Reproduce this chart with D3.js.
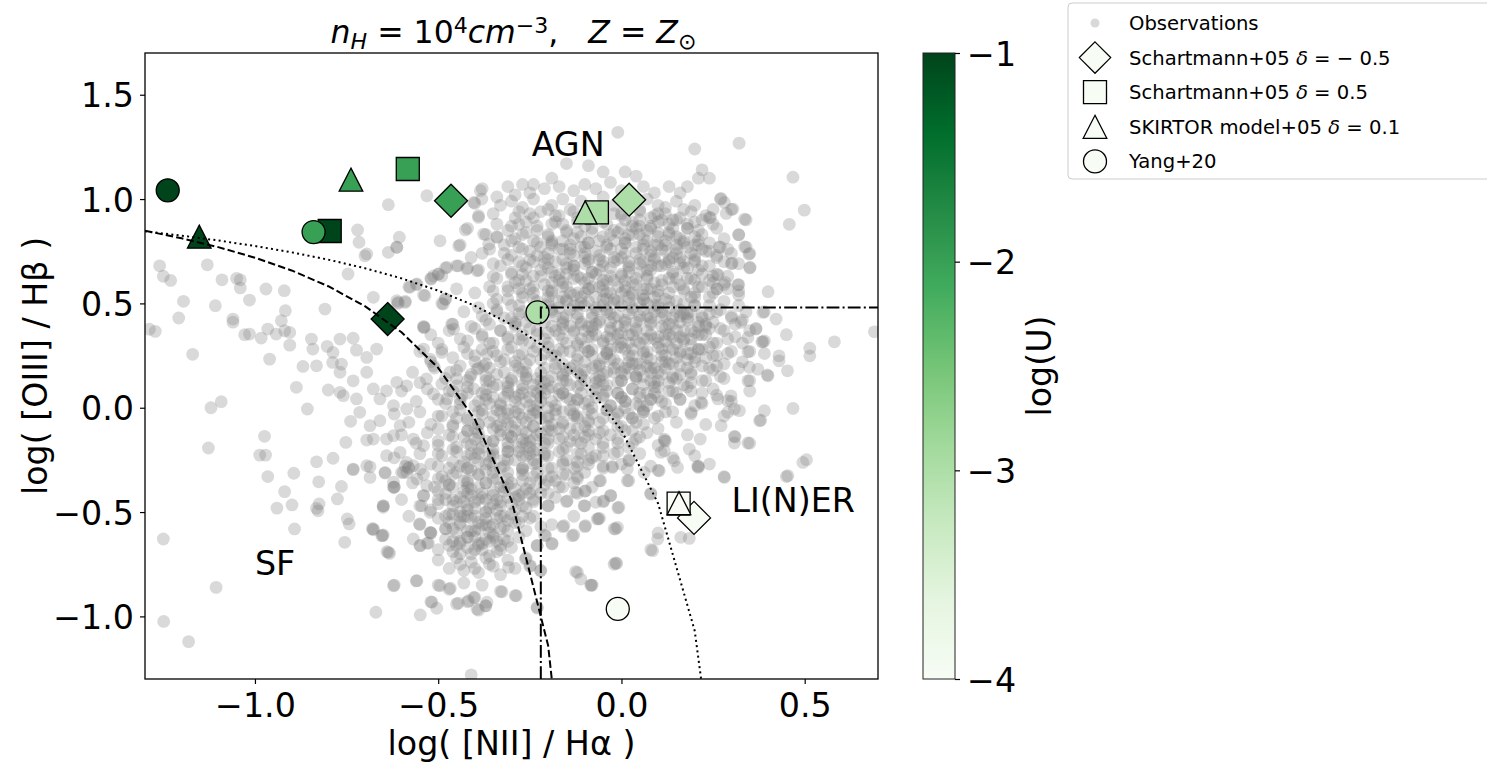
<!DOCTYPE html>
<html>
<head>
<meta charset="utf-8">
<script src="https://cdn.jsdelivr.net/npm/d3@7"></script>
<style>
  html, body { margin: 0; padding: 0; background: #ffffff; }
  svg text { font-family: "DejaVu Sans", sans-serif; }
</style>
</head>
<body>
<svg id="chart" width="1487" height="762"></svg>
<script>
// ---------- axes ----------
const xDomain = [-1.3, 0.7];
const yDomain = [-1.3, 1.7];
const xTicks = [-1.0, -0.5, 0.0, 0.5];
const yTicks = [-1.0, -0.5, 0.0, 0.5, 1.0, 1.5];
const uDomain = [-4, -1];
const uTicks = [-1, -2, -3, -4];

// ---------- model grids: log(U) of each point ----------
const logU = [-1, -2, -3, -4];
const schartmannNegX = [-0.638, -0.465, 0.021, 0.198];
const schartmannNegY = [0.425, 0.992, 0.997, -0.528];
const schartmannPosX = [-0.796, -0.583, -0.067, 0.156];
const schartmannPosY = [0.847, 1.144, 0.936, -0.46];
const skirtorX = [-1.152, -0.738, -0.099, 0.157];
const skirtorY = [0.82, 1.093, 0.936, -0.457];
const yangX = [-1.238, -0.84, -0.229, -0.01];
const yangY = [1.042, 0.842, 0.457, -0.964];

// ---------- demarcation lines ----------
const curveX = [-1.3, -1.2, -1.1, -1.0, -0.9, -0.8, -0.7, -0.6, -0.5, -0.4, -0.3, -0.2, -0.1, 0.0, 0.1, 0.2, 0.3];
const dividerX = -0.22;   // vertical dash-dot
const dividerY = 0.48;    // horizontal dash-dot

// ---------- region labels ----------
const regionLabels = [
  { text: "AGN", x: -0.245, y: 1.205 },
  { text: "SF", x: -1.0, y: -0.8 },
  { text: "LI(N)ER", x: 0.3, y: -0.5 }
];

// ---------- observations: star-forming side and outliers ----------
const obsOuter = [
[-1.26,0.68],[-1.25,0.63],[-1.23,0.61],[-1.13,0.685],[-1.09,0.613],[-1.05,0.62],[-1.04,0.613],[-1.04,0.574],[-0.97,0.569],[-0.92,0.561],
[-1.015,0.516],[-1.195,0.51],[-1.108,0.489],[-1.208,0.43],[-1.272,0.366],[-1.17,0.256],[-0.917,0.465],[-1.06,0.425],[-1.06,0.41],[-1.028,0.35],
[-1.015,0.353],[-0.983,0.334],[-0.965,0.377],[-0.942,0.353],[-0.928,0.417],[-0.919,0.369],[-0.905,0.361],[-0.96,0.233],[-0.905,0.3],[-0.869,0.198],
[-0.846,0.329],[-0.842,0.281],[-0.832,0.201],[-0.809,0.473],[-0.768,0.329],[-0.803,0.294],[-0.787,0.265],[-0.788,0.217],[-0.764,0.209],[-0.768,0.17],
[-0.732,0.333],[-0.723,0.276],[-0.695,0.241],[-0.668,0.281],[-0.746,0.641],[-0.7,0.728],[-0.636,0.745],[-0.613,0.769],[-0.677,0.529],[-0.613,0.513],
[-0.59,0.505],[-0.536,0.537],[-0.577,0.577],[-0.513,0.632],[-0.49,0.632],[-0.486,0.497],[-0.463,0.401],[-0.458,0.377],[-0.538,0.385],[-0.887,0.098],
[-0.8,0.085],[-0.768,0.074],[-0.759,0.058],[-1.12,0.0],[-1.092,0.029],[-0.857,-0.006],[-0.739,-0.065],[-0.974,-0.137],[-1.127,-0.193],[-0.987,-0.227],
[-0.971,-0.227],[-0.965,-0.33],[-0.894,-0.314],[-0.832,-0.259],[-0.787,-0.242],[-0.752,-0.166],[-0.732,-0.294],[-0.695,-0.278],[-0.686,-0.334],[-0.645,-0.31],
[-0.641,-0.15],[-0.695,-0.155],[-0.586,-0.262],[-1.25,-0.629],[-1.106,-0.861],[-1.249,-1.024],[-1.181,-1.121],[-0.919,-0.402],[-0.899,-0.466],[-0.94,-0.481],
[-0.892,-0.581],[-0.826,-0.355],[-0.825,-0.461],[-0.828,-0.494],[-0.775,-0.437],[-0.764,-0.377],[-0.732,-0.297],[-0.686,-0.283],[-0.645,-0.313],[-0.62,-0.381],
[-0.748,-0.533],[-0.743,-0.557],[-0.755,-0.645],[-0.677,-0.585],[-0.652,-0.613],[-0.633,-0.698],[-0.622,-0.853],[-0.67,-0.98],[-0.549,-0.993],[-0.65,-0.477],
[-0.832,-0.482],[-1.288,0.376],[-0.636,0.973],[-0.531,1.016],[-0.72,0.852],[-0.716,0.793],[-0.695,0.737],[-0.606,0.817],[-0.613,0.769],[-0.495,0.8],
[-0.426,0.852],[-0.385,1.04],[-0.381,1.0],[-0.403,0.984],[-0.39,0.912],[-0.376,0.832],[-0.362,0.784],[-0.444,0.776],[-0.339,0.816],[-0.476,0.673],
[-0.499,0.641],[-0.519,0.617],[-0.445,0.68],[-0.422,0.665],[-0.394,0.656],[-0.558,0.593],[-0.609,0.505],[-0.54,0.385],[-0.481,0.521],[-0.54,0.281],
[-0.522,0.233],[-0.49,0.265],[-0.513,0.201],[-0.468,0.17],[-0.532,0.138],[-0.49,0.114],[-0.449,0.106],[-0.513,0.066],[-0.476,0.042],[-0.435,0.057],
[-0.413,0.146],[-0.403,0.09],[-0.394,0.185],[-0.367,0.257],[-0.376,0.201],[-0.732,0.129],[-0.723,0.042],[-0.695,0.17],[-0.677,0.09],[-0.659,0.042],
[-0.641,0.081],[-0.613,0.122],[-0.622,0.01],[-0.586,0.105],[-0.586,-0.006],[-0.714,-0.022],[-0.686,-0.086],[-0.659,-0.062],[-0.677,-0.15],[-0.622,-0.134],
[-0.604,-0.086],[-0.568,-0.15],[-0.604,-0.214],[-0.641,-0.23],[-0.568,-0.278],[-0.54,-0.182],[-0.586,-0.31],[-0.622,-0.357],[-0.558,-0.829],[-0.495,-0.853],
[-0.467,-0.865],[-0.517,-0.932],[-0.504,-0.961],[-0.445,-0.936],[-0.417,-0.925],[-0.403,-0.909],[-0.394,-0.965],[-0.371,-0.949],[-0.367,-0.932],[-0.326,-0.882],
[-0.287,-0.901],[-0.23,-0.956],[-0.41,-1.28],[-0.636,-0.693],[-0.65,-0.47],[-0.654,-0.613],[-0.677,-0.581],[-0.622,-0.381],[-0.581,-0.286],[-0.595,-0.31],
[-0.568,-0.629],[-0.551,-0.557],[-0.549,-0.661],[-0.527,-0.648],[-0.522,-0.597],[-0.545,-0.47],[-0.54,-0.422],[-0.531,-0.374],[-0.522,-0.501],[-0.558,-0.342],
[-0.549,-0.294],[-0.189,-0.653],[-0.157,-0.565],[-0.125,-0.785],[-0.111,-0.821],[-0.084,-0.85],[-0.016,-0.744],[-0.016,-0.581],[-0.098,-0.565],[-0.066,-0.533],
[-0.102,-0.47],[-0.07,-0.453],[-0.048,-0.446],[-0.007,-0.477],[-0.029,-0.422],[-0.057,-0.35],[0.016,-0.35],[-0.025,-0.281],[0.021,-0.254],[0.08,-0.414],
[0.099,-0.629],[0.085,-0.685],[0.117,-0.158],[0.117,-0.206],[-0.308,-0.765],[-0.262,-0.725],[-0.248,-0.757],[-0.221,-0.781],[-0.23,-0.661],[-0.207,-0.613]
];

// ---------- observations: right-hand outskirts ----------
const obsRight = [
[0.272,1.003],[0.281,0.984],[0.304,0.952],[0.286,0.931],[0.336,0.904],[0.243,0.912],[0.32,0.828],[0.267,0.771],[0.336,0.771],[0.348,0.736],
[0.351,0.673],[0.302,0.693],[0.264,0.637],[0.283,0.601],[0.318,0.589],[0.261,0.569],[0.4,0.556],[0.386,0.457],[0.422,0.425],[0.367,0.377],
[0.386,0.316],[0.345,0.268],[0.43,0.249],[0.43,0.225],[0.453,0.177],[0.398,0.157],[0.514,0.285],[0.514,0.249],[0.581,0.316],[0.69,0.364],
[0.349,0.194],[0.345,0.129],[0.458,0.879],[0.499,0.947],[0.468,1.105],[0.321,1.268],[0.468,-0.003],[0.495,-0.262],[0.505,-0.249],[0.39,-0.014],
[0.377,-0.062],[0.345,-0.169],[0.308,-0.137],[0.308,-0.169],[0.281,-0.334],[0.454,-0.326],[0.326,0.409],[0.367,0.38],[0.383,0.316],[0.345,0.337],
[0.372,0.185],[0.4,0.153],[0.299,0.057],[0.29,0.034],[0.308,-0.006],[0.322,-0.014],[0.29,-0.022],[0.263,0.042],[0.272,-0.086],[0.19,-0.022],
[0.217,0.026],[0.185,-0.198],[0.21,-0.286],[0.215,-0.15],[0.144,-0.254],[0.153,-0.286],[0.117,-0.15],[0.108,-0.214],[0.062,-0.31],[0.016,-0.294],
[-0.025,-0.286],[0.208,-0.281],[0.103,-0.302],[-0.098,-0.398],[-0.125,-0.405],[-0.148,-0.446],[-0.134,-0.613],[-0.063,-0.533],[-0.011,-0.573],[-0.013,-0.746],
[0.162,-0.621],[0.185,-0.626],[-0.082,-0.85]
];

// ---------- observations: main cloud ----------
const obsCloud = [
[-0.01,1.32],[0.2,1.24],[-0.15,1.17],[-0.09,1.16],[0.22,1.14],
[-0.31,1.06],[-0.27,1.07],[-0.24,1.07],[-0.19,1.1],[-0.05,1.13],[0.01,1.13],[0.04,1.11],[0.13,1.06],[0.16,1.03],[0.21,1.1],[0.24,1.1],
[-0.38,1.05],[-0.29,1.02],[-0.25,1.03],[-0.21,1.05],[-0.17,1.06],[-0.13,1.04],[-0.1,1.07],[-0.07,1.05],[-0.03,1.08],[0.0,1.04],[0.06,1.06],[0.09,1.03],[0.18,1.06],[0.27,1.0],[-0.34,1.01],
[-0.4,0.98],[-0.39,0.92],[-0.33,0.97],[-0.3,0.99],[-0.27,0.96],[-0.24,1.0],[-0.22,0.94],[-0.19,0.97],[-0.16,1.0],[-0.14,0.95],[-0.11,0.99],[-0.08,0.96],[-0.05,1.01],[-0.02,0.97],[0.02,0.99],[0.05,0.95],[0.07,1.0],[0.1,0.97],[0.12,0.93],[0.15,0.99],[0.17,0.95],[0.2,0.97],[0.23,0.92],[0.25,0.95],[0.3,0.95],[-0.35,0.93],[-0.29,0.91],[-0.25,0.93],[-0.18,0.92],[-0.12,0.91],[-0.06,0.93],[0.0,0.92],[0.08,0.91],[0.14,0.9],[0.24,0.91],[0.34,0.9],
[-0.42,0.86],[-0.37,0.83],[-0.34,0.88],[-0.31,0.85],[-0.28,0.88],[-0.26,0.84],[-0.23,0.87],[-0.2,0.83],[-0.18,0.89],[-0.15,0.85],[-0.13,0.81],[-0.1,0.87],[-0.08,0.84],[-0.05,0.89],[-0.03,0.83],[0.0,0.86],[0.03,0.89],[0.05,0.83],[0.08,0.87],[0.1,0.84],[0.13,0.88],[0.15,0.82],[0.18,0.86],[0.2,0.89],[0.22,0.83],[0.26,0.86],[0.32,0.83],[-0.44,0.78],[-0.34,0.82],[-0.29,0.81],[-0.24,0.8],[-0.19,0.8],[-0.11,0.82],[-0.06,0.8],[0.01,0.81],[0.07,0.8],[0.12,0.8],[0.17,0.79],[0.21,0.8],[0.27,0.77],[0.34,0.77],[-0.16,0.88],[0.04,0.86],[0.11,0.9],
[-0.36,0.76],[-0.38,0.74],[-0.32,0.78],[-0.3,0.73],[-0.27,0.76],[-0.25,0.71],[-0.22,0.77],[-0.2,0.74],[-0.18,0.7],[-0.16,0.76],[-0.13,0.73],[-0.11,0.77],[-0.09,0.71],[-0.07,0.75],[-0.04,0.78],[-0.02,0.72],[0.0,0.76],[0.02,0.7],[0.04,0.74],[0.06,0.78],[0.09,0.72],[0.11,0.76],[0.13,0.7],[0.15,0.74],[0.18,0.77],[0.2,0.71],[0.23,0.75],[0.26,0.72],[0.3,0.74],[0.35,0.74],[0.32,0.69],[-0.41,0.72],[-0.23,0.73],[-0.14,0.78],[-0.06,0.71],[0.01,0.79],[0.08,0.75],[0.16,0.72],[-0.19,0.79],[0.12,0.78],[-0.1,0.74],[0.05,0.71],[-0.28,0.7],[0.21,0.78],
[-0.48,0.67],[-0.5,0.64],[-0.52,0.62],[-0.45,0.68],[-0.42,0.67],[-0.39,0.66],[-0.35,0.63],[-0.33,0.68],[-0.3,0.65],[-0.28,0.61],[-0.26,0.67],[-0.24,0.63],[-0.21,0.69],[-0.19,0.65],[-0.17,0.61],[-0.15,0.67],[-0.12,0.63],[-0.1,0.69],[-0.08,0.65],[-0.05,0.61],[-0.03,0.67],[0.0,0.64],[0.02,0.68],[0.04,0.62],[0.07,0.66],[0.09,0.6],[0.11,0.68],[0.14,0.64],[0.16,0.69],[0.19,0.62],[0.21,0.66],[0.24,0.61],[0.26,0.64],[0.3,0.69],[0.35,0.67],[0.32,0.59],[-0.22,0.66],[-0.13,0.68],[-0.06,0.66],[0.01,0.61],[0.08,0.68],[0.13,0.62],[-0.17,0.64],[-0.02,0.7],[0.18,0.67],[-0.27,0.64],[0.05,0.65],[-0.09,0.62],
[-0.56,0.59],[-0.58,0.58],[-0.59,0.51],[-0.61,0.5],[-0.54,0.54],[-0.48,0.52],[-0.45,0.57],[-0.4,0.55],[-0.36,0.58],[-0.34,0.52],[-0.31,0.56],[-0.29,0.6],[-0.27,0.53],[-0.25,0.57],[-0.23,0.51],[-0.21,0.59],[-0.19,0.55],[-0.17,0.51],[-0.15,0.58],[-0.13,0.54],[-0.11,0.5],[-0.09,0.57],[-0.07,0.53],[-0.05,0.59],[-0.03,0.55],[-0.01,0.51],[0.01,0.58],[0.03,0.54],[0.05,0.5],[0.07,0.57],[0.09,0.53],[0.11,0.59],[0.13,0.55],[0.15,0.51],[0.17,0.57],[0.19,0.53],[0.22,0.58],[0.24,0.53],[0.26,0.57],[0.28,0.59],[0.32,0.56],[-0.2,0.53],[-0.1,0.55],[0.0,0.55],[0.1,0.56],[0.2,0.55],[-0.28,0.57],[-0.15,0.52],[-0.05,0.52],[0.06,0.52],[0.16,0.59],
[-0.49,0.5],[-0.46,0.4],[-0.54,0.39],[-0.43,0.46],[-0.39,0.48],[-0.37,0.42],[-0.34,0.47],[-0.32,0.43],[-0.3,0.49],[-0.28,0.45],[-0.26,0.41],[-0.24,0.47],[-0.22,0.43],[-0.2,0.49],[-0.18,0.44],[-0.16,0.4],[-0.14,0.47],[-0.12,0.43],[-0.1,0.49],[-0.08,0.45],[-0.06,0.41],[-0.04,0.47],[-0.02,0.43],[0.0,0.49],[0.02,0.45],[0.04,0.41],[0.06,0.47],[0.08,0.43],[0.1,0.49],[0.12,0.44],[0.14,0.4],[0.16,0.47],[0.18,0.43],[0.2,0.49],[0.22,0.44],[0.25,0.41],[0.27,0.47],[0.3,0.43],[0.34,0.46],[0.39,0.46],[-0.19,0.46],[-0.11,0.41],[-0.03,0.45],[0.05,0.44],[0.13,0.48],[0.21,0.41],[-0.25,0.44],[0.09,0.46],[-0.07,0.48],[0.17,0.45],[-0.15,0.44],[0.01,0.42],[-0.29,0.41],
[-0.52,0.35],[-0.5,0.31],[-0.47,0.37],[-0.44,0.33],[-0.41,0.39],[-0.38,0.35],[-0.36,0.31],[-0.33,0.37],[-0.31,0.33],[-0.29,0.39],[-0.27,0.35],[-0.25,0.31],[-0.23,0.37],[-0.21,0.33],[-0.19,0.39],[-0.17,0.35],[-0.15,0.31],[-0.13,0.37],[-0.11,0.33],[-0.09,0.39],[-0.07,0.35],[-0.05,0.31],[-0.03,0.37],[-0.01,0.33],[0.01,0.39],[0.03,0.35],[0.05,0.31],[0.07,0.37],[0.09,0.33],[0.11,0.39],[0.13,0.35],[0.15,0.31],[0.17,0.37],[0.19,0.33],[0.21,0.39],[0.23,0.35],[0.26,0.31],[0.28,0.37],[0.31,0.34],[0.35,0.37],[0.39,0.32],[0.45,0.35],[-0.2,0.36],[-0.12,0.3],[-0.04,0.34],[0.04,0.38],[0.12,0.32],[0.2,0.36],[-0.28,0.33],[0.16,0.34],[-0.08,0.37],[0.0,0.31],[-0.16,0.38],[0.08,0.35],[0.24,0.38],
[-0.55,0.27],[-0.52,0.22],[-0.49,0.28],[-0.46,0.24],[-0.43,0.29],[-0.4,0.25],[-0.37,0.21],[-0.35,0.27],[-0.32,0.23],[-0.3,0.29],[-0.28,0.25],[-0.26,0.21],[-0.24,0.27],[-0.22,0.23],[-0.2,0.29],[-0.18,0.25],[-0.16,0.21],[-0.14,0.27],[-0.12,0.23],[-0.1,0.29],[-0.08,0.25],[-0.06,0.21],[-0.04,0.27],[-0.02,0.23],[0.0,0.29],[0.02,0.25],[0.04,0.21],[0.06,0.27],[0.08,0.23],[0.1,0.29],[0.12,0.25],[0.14,0.21],[0.16,0.27],[0.18,0.23],[0.21,0.28],[0.23,0.24],[0.26,0.2],[0.29,0.26],[0.33,0.22],[0.35,0.27],[0.39,0.26],[-0.21,0.26],[-0.13,0.2],[-0.05,0.24],[0.03,0.28],[0.11,0.22],[0.19,0.26],[-0.29,0.22],[-0.09,0.27],[0.07,0.2],[-0.17,0.28],[0.15,0.24],[-0.01,0.21],[0.24,0.29],
[-0.57,0.17],[-0.55,0.12],[-0.51,0.19],[-0.48,0.14],[-0.45,0.18],[-0.42,0.13],[-0.39,0.19],[-0.37,0.15],[-0.34,0.11],[-0.32,0.17],[-0.3,0.13],[-0.28,0.19],[-0.26,0.15],[-0.24,0.11],[-0.22,0.17],[-0.2,0.13],[-0.18,0.19],[-0.16,0.15],[-0.14,0.11],[-0.12,0.17],[-0.1,0.13],[-0.08,0.19],[-0.06,0.15],[-0.04,0.11],[-0.02,0.17],[0.0,0.13],[0.02,0.19],[0.04,0.15],[0.06,0.11],[0.08,0.17],[0.1,0.13],[0.12,0.19],[0.14,0.15],[0.17,0.11],[0.19,0.17],[0.22,0.13],[0.25,0.18],[0.28,0.14],[0.32,0.19],[0.35,0.13],[-0.23,0.14],[-0.15,0.18],[-0.07,0.12],[0.01,0.16],[0.09,0.1],[-0.31,0.1],[-0.11,0.15],[0.05,0.18],[-0.27,0.17],[0.13,0.12],[-0.19,0.1],
[-0.6,0.08],[-0.56,0.03],[-0.53,0.09],[-0.5,0.04],[-0.47,0.08],[-0.44,0.02],[-0.42,0.07],[-0.39,0.03],[-0.37,0.09],[-0.35,0.05],[-0.33,0.01],[-0.31,0.07],[-0.29,0.03],[-0.27,0.09],[-0.25,0.05],[-0.23,0.01],[-0.21,0.07],[-0.19,0.03],[-0.17,0.09],[-0.15,0.05],[-0.13,0.01],[-0.11,0.07],[-0.09,0.03],[-0.07,0.09],[-0.05,0.05],[-0.03,0.01],[-0.01,0.07],[0.01,0.03],[0.03,0.09],[0.05,0.05],[0.07,0.01],[0.09,0.07],[0.11,0.03],[0.13,0.08],[0.16,0.04],[0.19,0.08],[0.22,0.02],[0.26,0.06],[0.3,0.03],[0.35,0.08],[-0.28,0.06],[-0.2,0.0],[-0.12,0.04],[-0.04,0.08],[0.04,0.02],[-0.36,0.02],[-0.16,0.07],[0.0,0.05],[-0.24,0.08],[-0.08,0.0],[0.08,0.04],
[-0.62,-0.03],[-0.58,-0.07],[-0.55,-0.02],[-0.52,-0.08],[-0.49,-0.04],[-0.46,-0.09],[-0.44,-0.01],[-0.42,-0.06],[-0.4,-0.1],[-0.38,-0.03],[-0.36,-0.07],[-0.34,-0.01],[-0.32,-0.05],[-0.3,-0.09],[-0.28,-0.03],[-0.26,-0.07],[-0.24,-0.01],[-0.22,-0.05],[-0.2,-0.09],[-0.18,-0.03],[-0.16,-0.07],[-0.14,-0.01],[-0.12,-0.05],[-0.1,-0.09],[-0.08,-0.03],[-0.06,-0.07],[-0.04,-0.01],[-0.02,-0.05],[0.0,-0.09],[0.02,-0.03],[0.04,-0.07],[0.06,-0.01],[0.09,-0.05],[0.12,-0.02],[0.15,-0.07],[0.19,-0.03],[0.23,-0.08],[0.28,-0.04],[0.38,-0.06],[-0.33,-0.08],[-0.25,-0.04],[-0.17,-0.1],[-0.09,-0.06],[-0.01,-0.02],[-0.45,-0.05],[-0.29,-0.02],[-0.13,-0.04],[0.03,-0.05],
[-0.6,-0.13],[-0.56,-0.17],[-0.53,-0.12],[-0.5,-0.18],[-0.47,-0.13],[-0.45,-0.19],[-0.43,-0.14],[-0.41,-0.18],[-0.39,-0.12],[-0.37,-0.16],[-0.35,-0.2],[-0.33,-0.13],[-0.31,-0.17],[-0.29,-0.11],[-0.27,-0.15],[-0.25,-0.19],[-0.23,-0.13],[-0.21,-0.17],[-0.19,-0.11],[-0.17,-0.15],[-0.15,-0.19],[-0.13,-0.13],[-0.11,-0.17],[-0.09,-0.11],[-0.07,-0.15],[-0.05,-0.19],[-0.03,-0.13],[-0.01,-0.17],[0.01,-0.11],[0.04,-0.15],[0.07,-0.12],[0.1,-0.18],[0.12,-0.16],[0.18,-0.13],[0.31,-0.14],[0.35,-0.17],[-0.38,-0.19],[-0.3,-0.14],[-0.22,-0.12],[-0.14,-0.16],[-0.06,-0.12],[-0.42,-0.11],[-0.26,-0.17],[-0.1,-0.14],[0.02,-0.19],
[-0.62,-0.24],[-0.59,-0.28],[-0.55,-0.22],[-0.52,-0.27],[-0.49,-0.23],[-0.47,-0.29],[-0.45,-0.21],[-0.43,-0.26],[-0.41,-0.3],[-0.39,-0.22],[-0.37,-0.27],[-0.35,-0.23],[-0.33,-0.29],[-0.31,-0.21],[-0.29,-0.25],[-0.27,-0.29],[-0.25,-0.22],[-0.23,-0.27],[-0.21,-0.23],[-0.19,-0.29],[-0.17,-0.21],[-0.15,-0.25],[-0.13,-0.29],[-0.11,-0.22],[-0.09,-0.27],[-0.07,-0.23],[-0.05,-0.28],[-0.02,-0.22],[0.0,-0.27],[0.02,-0.25],[0.05,-0.22],[0.08,-0.28],[0.14,-0.24],[0.2,-0.23],[0.24,-0.27],[-0.58,-0.29],[-0.4,-0.24],[-0.32,-0.25],[-0.24,-0.25],[-0.16,-0.27],[-0.08,-0.24],[-0.44,-0.28],[-0.28,-0.21],[-0.12,-0.26],
[-0.62,-0.38],[-0.6,-0.31],[-0.57,-0.36],[-0.54,-0.32],[-0.51,-0.38],[-0.49,-0.33],[-0.47,-0.37],[-0.45,-0.31],[-0.43,-0.35],[-0.41,-0.39],[-0.39,-0.32],[-0.37,-0.36],[-0.35,-0.31],[-0.33,-0.38],[-0.31,-0.34],[-0.29,-0.39],[-0.27,-0.32],[-0.25,-0.36],[-0.23,-0.31],[-0.21,-0.37],[-0.19,-0.33],[-0.17,-0.38],[-0.15,-0.32],[-0.13,-0.36],[-0.1,-0.31],[-0.08,-0.38],[-0.06,-0.35],[0.02,-0.35],[0.1,-0.3],[0.21,-0.28],[0.28,-0.33],[0.45,-0.33],[0.08,-0.41],[-0.42,-0.36],[-0.34,-0.34],[-0.26,-0.39],[-0.18,-0.35],[-0.48,-0.35],[-0.3,-0.36],[-0.22,-0.34],[-0.12,-0.33],
[-0.65,-0.47],[-0.6,-0.44],[-0.55,-0.47],[-0.54,-0.42],[-0.52,-0.49],[-0.5,-0.44],[-0.48,-0.41],[-0.46,-0.47],[-0.44,-0.43],[-0.42,-0.49],[-0.4,-0.45],[-0.38,-0.41],[-0.36,-0.48],[-0.34,-0.44],[-0.32,-0.4],[-0.3,-0.46],[-0.28,-0.42],[-0.26,-0.48],[-0.24,-0.44],[-0.22,-0.41],[-0.2,-0.47],[-0.18,-0.43],[-0.15,-0.45],[-0.12,-0.41],[-0.1,-0.47],[-0.05,-0.45],[-0.03,-0.42],[-0.01,-0.48],[-0.1,-0.4],[-0.45,-0.45],[-0.37,-0.44],[-0.29,-0.43],[-0.41,-0.42],[-0.33,-0.47],[-0.25,-0.41],
[-0.68,-0.58],[-0.65,-0.61],[-0.58,-0.52],[-0.55,-0.56],[-0.52,-0.6],[-0.5,-0.53],[-0.48,-0.58],[-0.46,-0.51],[-0.44,-0.55],[-0.42,-0.59],[-0.4,-0.52],[-0.38,-0.56],[-0.36,-0.6],[-0.34,-0.53],[-0.32,-0.57],[-0.3,-0.51],[-0.28,-0.55],[-0.26,-0.59],[-0.24,-0.52],[-0.22,-0.57],[-0.19,-0.56],[-0.16,-0.57],[-0.13,-0.52],[-0.1,-0.57],[-0.06,-0.53],[-0.02,-0.58],[0.1,-0.6],[-0.47,-0.55],[-0.39,-0.58],[-0.31,-0.54],[-0.43,-0.52],[-0.35,-0.56],[-0.27,-0.52],[-0.45,-0.6],[-0.37,-0.53],
[-0.64,-0.69],[-0.55,-0.66],[-0.53,-0.65],[-0.52,-0.6],[-0.5,-0.68],[-0.48,-0.63],[-0.46,-0.69],[-0.44,-0.64],[-0.42,-0.67],[-0.4,-0.62],[-0.38,-0.68],[-0.36,-0.64],[-0.34,-0.69],[-0.32,-0.63],[-0.3,-0.67],[-0.28,-0.62],[-0.23,-0.66],[-0.21,-0.61],[-0.19,-0.65],[-0.13,-0.61],[0.08,-0.68],[-0.45,-0.66],[-0.39,-0.65],[-0.33,-0.66],[-0.41,-0.7],[-0.35,-0.61],[-0.47,-0.66],
[-0.5,-0.73],[-0.47,-0.77],[-0.45,-0.72],[-0.43,-0.78],[-0.41,-0.74],[-0.39,-0.79],[-0.37,-0.72],[-0.35,-0.76],[-0.33,-0.8],[-0.31,-0.73],[-0.29,-0.77],[-0.26,-0.72],[-0.25,-0.76],[-0.22,-0.78],[-0.12,-0.79],[-0.02,-0.75],[-0.44,-0.75],[-0.4,-0.77],[-0.36,-0.75],
[-0.62,-0.85],[-0.56,-0.83],[-0.5,-0.85],[-0.47,-0.87],[-0.52,-0.93],[-0.45,-0.94],[-0.42,-0.93],[-0.4,-0.91],[-0.39,-0.97],[-0.37,-0.95],[-0.33,-0.88],[-0.29,-0.9],[-0.23,-0.96],[-0.08,-0.85],[-0.43,-0.84],[-0.38,-0.85]
];

// ---------- observations: dense core, second layer ----------
const obsCore = [
[-0.28,0.94],[-0.24,0.91],[-0.2,0.95],[-0.17,0.92],[-0.13,0.94],[-0.09,0.9],[-0.06,0.95],[-0.02,0.93],[0.01,0.9],[0.05,0.94],[0.09,0.92],[0.12,0.96],[0.16,0.91],[0.19,0.94],[0.22,0.9],
[-0.3,0.87],[-0.26,0.89],[-0.23,0.85],[-0.19,0.88],[-0.15,0.84],[-0.12,0.89],[-0.08,0.86],[-0.04,0.88],[-0.01,0.84],[0.03,0.87],[0.07,0.85],[0.1,0.89],[0.14,0.86],[0.18,0.88],[0.21,0.85],[0.25,0.88],
[-0.3,0.8],[-0.27,0.83],[-0.23,0.79],[-0.2,0.82],[-0.16,0.8],[-0.12,0.84],[-0.09,0.79],[-0.05,0.82],[-0.02,0.8],[0.02,0.83],[0.06,0.81],[0.09,0.78],[0.13,0.83],[0.17,0.8],[0.2,0.82],[0.24,0.79],[0.28,0.81],
[-0.32,0.74],[-0.28,0.77],[-0.25,0.75],[-0.21,0.72],[-0.17,0.76],[-0.14,0.74],[-0.1,0.77],[-0.06,0.73],[-0.03,0.76],[0.01,0.74],[0.04,0.77],[0.08,0.73],[0.12,0.75],[0.15,0.78],[0.19,0.74],[0.22,0.76],[0.26,0.73],[0.29,0.76],
[-0.35,0.69],[-0.31,0.71],[-0.27,0.68],[-0.24,0.7],[-0.2,0.67],[-0.16,0.71],[-0.13,0.68],[-0.09,0.7],[-0.05,0.68],[-0.01,0.71],[0.02,0.67],[0.06,0.7],[0.1,0.68],[0.13,0.71],[0.17,0.67],[0.2,0.7],[0.24,0.68],[0.28,0.7],
[-0.34,0.62],[-0.3,0.64],[-0.26,0.61],[-0.22,0.63],[-0.19,0.6],[-0.15,0.64],[-0.11,0.62],[-0.07,0.64],[-0.04,0.61],[0.0,0.63],[0.03,0.6],[0.07,0.63],[0.11,0.61],[0.14,0.65],[0.18,0.62],[0.22,0.64],[0.25,0.6],[0.29,0.63],
[-0.35,0.56],[-0.31,0.58],[-0.27,0.55],[-0.24,0.58],[-0.2,0.56],[-0.16,0.58],[-0.12,0.55],[-0.08,0.58],[-0.05,0.56],[-0.01,0.58],[0.03,0.55],[0.06,0.57],[0.1,0.54],[0.14,0.58],[0.17,0.56],[0.21,0.58],[0.25,0.55],[0.29,0.57],[0.32,0.54],
[-0.35,0.5],[-0.31,0.52],[-0.28,0.49],[-0.24,0.52],[-0.2,0.5],[-0.16,0.53],[-0.13,0.49],[-0.09,0.51],[-0.05,0.49],[-0.02,0.52],[0.02,0.5],[0.06,0.52],[0.09,0.49],[0.13,0.51],[0.17,0.5],[0.2,0.53],[0.24,0.49],[0.28,0.51],[0.32,0.49],
[-0.38,0.44],[-0.34,0.46],[-0.3,0.43],[-0.27,0.46],[-0.23,0.44],[-0.19,0.47],[-0.16,0.43],[-0.12,0.45],[-0.08,0.43],[-0.04,0.46],[-0.01,0.44],[0.03,0.47],[0.07,0.44],[0.11,0.46],[0.14,0.43],[0.18,0.45],[0.22,0.43],[0.26,0.46],[0.3,0.44],[0.33,0.42],
[-0.4,0.38],[-0.36,0.4],[-0.33,0.37],[-0.29,0.4],[-0.25,0.38],[-0.21,0.41],[-0.18,0.37],[-0.14,0.39],[-0.1,0.37],[-0.07,0.4],[-0.03,0.38],[0.01,0.41],[0.04,0.37],[0.08,0.4],[0.12,0.38],[0.16,0.41],[0.19,0.37],[0.23,0.4],[0.27,0.38],[0.31,0.4],
[-0.42,0.32],[-0.38,0.34],[-0.35,0.31],[-0.31,0.34],[-0.27,0.32],[-0.23,0.35],[-0.2,0.31],[-0.16,0.33],[-0.12,0.31],[-0.09,0.34],[-0.05,0.32],[-0.01,0.35],[0.02,0.31],[0.06,0.33],[0.1,0.31],[0.14,0.34],[0.17,0.32],[0.21,0.35],[0.25,0.31],[0.29,0.33],[0.33,0.31],
[-0.42,0.26],[-0.38,0.28],[-0.34,0.25],[-0.31,0.28],[-0.27,0.26],[-0.23,0.29],[-0.19,0.25],[-0.16,0.27],[-0.12,0.25],[-0.08,0.28],[-0.04,0.26],[-0.01,0.29],[0.03,0.25],[0.07,0.27],[0.11,0.25],[0.14,0.28],[0.18,0.26],[0.22,0.28],[0.26,0.25],[0.3,0.27],
[-0.44,0.2],[-0.4,0.22],[-0.36,0.19],[-0.33,0.22],[-0.29,0.2],[-0.25,0.23],[-0.21,0.19],[-0.18,0.21],[-0.14,0.19],[-0.1,0.22],[-0.06,0.2],[-0.03,0.23],[0.01,0.19],[0.05,0.21],[0.09,0.19],[0.12,0.22],[0.16,0.2],[0.2,0.22],[0.24,0.19],[0.28,0.21],
[-0.45,0.14],[-0.41,0.16],[-0.37,0.13],[-0.34,0.16],[-0.3,0.14],[-0.26,0.17],[-0.22,0.13],[-0.19,0.15],[-0.15,0.13],[-0.11,0.16],[-0.07,0.14],[-0.04,0.17],[0.0,0.13],[0.04,0.15],[0.08,0.13],[0.11,0.16],[0.15,0.14],[0.19,0.16],[0.23,0.13],[0.27,0.15],
[-0.46,0.08],[-0.42,0.1],[-0.38,0.07],[-0.35,0.1],[-0.31,0.08],[-0.27,0.11],[-0.23,0.07],[-0.2,0.09],[-0.16,0.07],[-0.12,0.1],[-0.08,0.08],[-0.05,0.11],[-0.01,0.07],[0.03,0.09],[0.07,0.07],[0.1,0.1],[0.14,0.08],[0.18,0.1],[0.22,0.07],[0.25,0.09],
[-0.48,0.02],[-0.44,0.04],[-0.4,0.01],[-0.37,0.04],[-0.33,0.02],[-0.29,0.05],[-0.25,0.01],[-0.22,0.03],[-0.18,0.01],[-0.14,0.04],[-0.1,0.02],[-0.07,0.05],[-0.03,0.01],[0.01,0.03],[0.05,0.01],[0.08,0.04],[0.12,0.02],[0.16,0.04],[0.2,0.01],
[-0.5,-0.04],[-0.46,-0.02],[-0.42,-0.05],[-0.39,-0.02],[-0.35,-0.04],[-0.31,-0.01],[-0.27,-0.05],[-0.24,-0.03],[-0.2,-0.05],[-0.16,-0.02],[-0.12,-0.04],[-0.09,-0.01],[-0.05,-0.05],[-0.01,-0.03],[0.03,-0.05],[0.06,-0.02],[0.1,-0.04],[0.14,-0.02],
[-0.5,-0.1],[-0.46,-0.08],[-0.42,-0.11],[-0.39,-0.08],[-0.35,-0.1],[-0.31,-0.07],[-0.27,-0.11],[-0.24,-0.09],[-0.2,-0.11],[-0.16,-0.08],[-0.12,-0.1],[-0.09,-0.07],[-0.05,-0.11],[-0.01,-0.09],[0.03,-0.11],[0.06,-0.08],[0.1,-0.1],
[-0.5,-0.16],[-0.46,-0.14],[-0.42,-0.17],[-0.39,-0.14],[-0.35,-0.16],[-0.31,-0.13],[-0.27,-0.17],[-0.24,-0.15],[-0.2,-0.17],[-0.16,-0.14],[-0.12,-0.16],[-0.09,-0.13],[-0.05,-0.17],[-0.01,-0.15],[0.03,-0.17],[0.05,-0.14],
[-0.5,-0.22],[-0.46,-0.2],[-0.42,-0.23],[-0.39,-0.2],[-0.35,-0.22],[-0.31,-0.19],[-0.27,-0.23],[-0.24,-0.21],[-0.2,-0.23],[-0.16,-0.2],[-0.12,-0.22],[-0.09,-0.19],[-0.05,-0.23],[-0.01,-0.21],
[-0.5,-0.28],[-0.46,-0.26],[-0.42,-0.29],[-0.39,-0.26],[-0.35,-0.28],[-0.31,-0.25],[-0.27,-0.29],[-0.24,-0.27],[-0.2,-0.29],[-0.16,-0.26],[-0.12,-0.28],[-0.09,-0.25],[-0.05,-0.29],
[-0.5,-0.34],[-0.46,-0.32],[-0.42,-0.35],[-0.39,-0.32],[-0.35,-0.34],[-0.31,-0.31],[-0.27,-0.35],[-0.24,-0.33],[-0.2,-0.35],[-0.16,-0.32],[-0.12,-0.34],
[-0.5,-0.4],[-0.46,-0.38],[-0.42,-0.41],[-0.39,-0.38],[-0.35,-0.4],[-0.31,-0.37],[-0.27,-0.41],[-0.24,-0.39],[-0.2,-0.41],[-0.16,-0.38],
[-0.5,-0.46],[-0.46,-0.44],[-0.42,-0.47],[-0.39,-0.44],[-0.35,-0.46],[-0.31,-0.43],[-0.27,-0.47],[-0.24,-0.45],[-0.2,-0.47],
[-0.48,-0.52],[-0.44,-0.5],[-0.41,-0.53],[-0.37,-0.5],[-0.33,-0.52],[-0.29,-0.49],[-0.25,-0.53],
[-0.48,-0.58],[-0.44,-0.56],[-0.4,-0.59],[-0.37,-0.56],[-0.33,-0.58],[-0.29,-0.55],
[-0.46,-0.64],[-0.42,-0.62],[-0.38,-0.65],[-0.35,-0.62],[-0.31,-0.64],
[-0.44,-0.7],[-0.4,-0.68],[-0.36,-0.71],[-0.33,-0.68]
];

// ---------- observations: darkest pockets, third layer ----------
const obsPeak = [
[-0.19,0.78],[-0.14,0.76],[-0.09,0.79],[-0.04,0.77],[0.01,0.79],[0.06,0.76],
[-0.2,0.71],[-0.15,0.69],[-0.1,0.72],[-0.05,0.7],[0.0,0.72],[0.05,0.69],[0.09,0.71],
[-0.18,0.63],[-0.13,0.62],[-0.08,0.65],[-0.03,0.63],[0.02,0.65],[0.07,0.62],
[-0.19,0.56],[-0.14,0.55],[-0.09,0.57],[-0.04,0.55],[0.01,0.56],[0.06,0.54],
[-0.17,0.48],[-0.12,0.49],[-0.07,0.47],[-0.02,0.5],[0.03,0.48],
[-0.16,0.41],[-0.11,0.4],[-0.06,0.42],[-0.01,0.39],
[0.1,0.48],[0.15,0.46],[0.2,0.49],[0.24,0.45],
[0.08,0.41],[0.13,0.4],[0.18,0.42],[0.23,0.39],
[-0.08,0.34],[-0.03,0.33],[0.02,0.35],[0.07,0.33],[0.12,0.35],[0.17,0.33],[0.22,0.35],
[-0.09,0.27],[-0.04,0.26],[0.01,0.28],[0.06,0.26],[0.11,0.28],[0.16,0.26],[0.21,0.28],[0.25,0.25],
[-0.07,0.2],[-0.02,0.19],[0.03,0.21],[0.08,0.19],[0.13,0.21],[0.18,0.19],[0.22,0.2],
[-0.06,0.13],[-0.01,0.12],[0.04,0.14],[0.09,0.12],[0.14,0.14],[0.19,0.12],
[-0.05,0.06],[0.0,0.05],[0.05,0.07],[0.1,0.05],[0.15,0.07],
[-0.04,-0.01],[0.01,0.0],[0.06,-0.02],
[-0.36,0.13],[-0.31,0.12],[-0.26,0.14],[-0.21,0.12],[-0.16,0.13],[-0.11,0.11],
[-0.37,0.06],[-0.32,0.05],[-0.27,0.07],[-0.22,0.05],[-0.17,0.06],[-0.12,0.04],
[-0.38,-0.01],[-0.33,-0.02],[-0.28,0.0],[-0.23,-0.02],[-0.18,-0.01],[-0.13,-0.03],
[-0.39,-0.08],[-0.34,-0.09],[-0.29,-0.07],[-0.24,-0.09],[-0.19,-0.08],[-0.14,-0.1],
[-0.4,-0.15],[-0.35,-0.16],[-0.3,-0.14],[-0.25,-0.16],[-0.2,-0.15],
[-0.41,-0.22],[-0.36,-0.23],[-0.31,-0.21],[-0.26,-0.23],[-0.21,-0.22],
[-0.42,-0.29],[-0.37,-0.3],[-0.32,-0.28],[-0.27,-0.3],
[-0.47,-0.37],[-0.42,-0.38],[-0.37,-0.36],[-0.32,-0.38],
[-0.48,-0.44],[-0.43,-0.45],[-0.38,-0.43],[-0.33,-0.45],[-0.28,-0.44],
[-0.47,-0.51],[-0.42,-0.52],[-0.37,-0.5],[-0.32,-0.52],
[-0.46,-0.58],[-0.41,-0.59],[-0.36,-0.57],[-0.31,-0.59],
[-0.44,-0.65],[-0.39,-0.66],[-0.34,-0.64],
[0.0,0.93],[0.05,0.9],[0.1,0.93],[0.15,0.9],
[-0.02,0.85],[0.03,0.83],[0.08,0.86],[0.13,0.84],[0.18,0.86],
[0.1,0.78],[0.15,0.76],[0.2,0.78],[0.24,0.75],
[0.12,0.69],[0.17,0.7],[0.22,0.68],[0.15,0.62],[0.2,0.61],[0.25,0.63]
];

// ---------- observations: overlapping clumps inside the core ----------
const obsClumps = [
[-0.13,0.66],[-0.1,0.6],[-0.06,0.58],[-0.02,0.61],[0.04,0.59],[0.08,0.57],[-0.15,0.51],[-0.11,0.53],[-0.04,0.52],[0.02,0.53],[0.07,0.5],
[0.12,0.52],[0.16,0.44],[0.19,0.46],[0.11,0.43],[0.05,0.42],[-0.03,0.41],[-0.08,0.39],[-0.13,0.36],[0.0,0.36],[0.04,0.32],[0.1,0.34],
[0.15,0.37],[0.19,0.3],[0.13,0.29],[0.07,0.24],[0.02,0.22],[-0.03,0.28],[0.1,0.17],[0.16,0.16],[0.2,0.24],[0.06,0.15],[0.0,0.17],
[-0.05,0.16],[-0.1,0.18],[-0.16,0.16],[-0.22,0.09],[-0.26,0.03],[-0.31,-0.03],[-0.2,-0.04],[-0.26,-0.12],[-0.33,-0.11],[-0.28,-0.19],
[-0.36,-0.26],[-0.23,-0.2],[-0.43,-0.4],[-0.4,-0.48],[-0.35,-0.42],[-0.44,-0.52],[-0.39,-0.55],[-0.34,-0.49],[-0.42,-0.62],[-0.37,-0.63],
[0.05,0.87],[0.1,0.82],[0.16,0.81],[0.2,0.73],[0.14,0.72],[0.08,0.66],[-0.16,0.6],[-0.24,0.55],[-0.22,0.46]
];

// ---------- legend ----------
const legendEntries = [
  { shape: "obs", pre: "Observations", math: "", post: "" },
  { shape: "diamond", pre: "Schartmann+05 ", math: "δ", post: " = − 0.5" },
  { shape: "square", pre: "Schartmann+05 ", math: "δ", post: " = 0.5" },
  { shape: "triangle", pre: "SKIRTOR model+05 ", math: "δ", post: " = 0.1" },
  { shape: "circle", pre: "Yang+20", math: "", post: "" }
];

// ======================================================================
const svg = d3.select("#chart");
const FONT = 33.3;
const plot = { left: 145, right: 878, top: 53, bottom: 679 };

const x = d3.scaleLinear().domain(xDomain).range([plot.left, plot.right]);
const y = d3.scaleLinear().domain(yDomain).range([plot.bottom, plot.top]);
const greens = d3.schemeGreens[9];
const color = d3.scaleLinear()
  .domain(greens.map((_, i) => uDomain[0] + (uDomain[1] - uDomain[0]) * i / (greens.length - 1)))
  .range(greens);

svg.append("defs").append("clipPath").attr("id", "plot-clip")
  .append("rect")
  .attr("x", plot.left).attr("y", plot.top)
  .attr("width", plot.right - plot.left).attr("height", plot.bottom - plot.top);

// observations
const observations = obsOuter.concat(obsRight, obsCloud, obsCore, obsPeak, obsClumps);
svg.append("g").attr("clip-path", "url(#plot-clip)")
  .selectAll("circle").data(observations).join("circle")
  .attr("cx", d => x(d[0])).attr("cy", d => y(d[1]))
  .attr("r", 6.4)
  .attr("fill", "#808080").attr("fill-opacity", 0.3);

// marker shapes (centred on 0,0)
const shapePath = {
  diamond: "M0,-16.5L16.5,0L0,16.5L-16.5,0Z",
  square: "M-11.5,-11.5H11.5V11.5H-11.5Z",
  triangle: "M0,-11.5L11.8,11.5H-11.8Z",
  circle: "M11.5,0A11.5,11.5 0 1,1 -11.5,0A11.5,11.5 0 1,1 11.5,0Z"
};

const models = [
  { shape: "diamond", xs: schartmannNegX, ys: schartmannNegY },
  { shape: "square", xs: schartmannPosX, ys: schartmannPosY },
  { shape: "triangle", xs: skirtorX, ys: skirtorY },
  { shape: "circle", xs: yangX, ys: yangY }
];

const markerLayer = svg.append("g").attr("clip-path", "url(#plot-clip)");
models.forEach(m => {
  const pts = m.xs.map((v, i) => ({ x: v, y: m.ys[i], u: logU[i] }));
  markerLayer.append("g").selectAll("path").data(pts).join("path")
    .attr("d", shapePath[m.shape])
    .attr("transform", d => `translate(${x(d.x)},${y(d.y)})`)
    .attr("fill", d => color(d.u))
    .attr("stroke", "#000").attr("stroke-width", 1.3)
    .attr("stroke-linejoin", "miter");
});

// demarcation curves
const lineLayer = svg.append("g").attr("clip-path", "url(#plot-clip)").attr("fill", "none").attr("stroke", "#000");
const line = d3.line().x(d => x(d[0])).y(d => y(d[1]));
const kauffmann = curveX.filter(v => v < 0.0).map(v => [v, 0.61 / (v - 0.05) + 1.3]);
const kewley = curveX.filter(v => v < 0.4).map(v => [v, 0.61 / (v - 0.47) + 1.19]);
lineLayer.append("path").attr("d", line(kauffmann)).attr("stroke-width", 2).attr("stroke-dasharray", "7.4,3.2");
lineLayer.append("path").attr("d", line(kewley)).attr("stroke-width", 2).attr("stroke-dasharray", "2,3.3");
lineLayer.append("path").attr("d", line([[dividerX, yDomain[0]], [dividerX, dividerY], [xDomain[1], dividerY]]))
  .attr("stroke-width", 2).attr("stroke-dasharray", "12.8,3.2,2,3.2");

// region labels
svg.append("g").selectAll("text").data(regionLabels).join("text")
  .attr("x", d => x(d.x)).attr("y", d => y(d.y))
  .attr("font-size", FONT).attr("fill", "#000")
  .text(d => d.text);

// frame
svg.append("rect")
  .attr("x", plot.left).attr("y", plot.top)
  .attr("width", plot.right - plot.left).attr("height", plot.bottom - plot.top)
  .attr("fill", "none").attr("stroke", "#000").attr("stroke-width", 1.3);

// axes
const fmt1 = d3.format(".1f");
const gx = svg.append("g").attr("transform", `translate(0,${plot.bottom})`)
  .call(d3.axisBottom(x).tickValues(xTicks).tickFormat(fmt1).tickSize(5).tickSizeOuter(0).tickPadding(9));
const gy = svg.append("g").attr("transform", `translate(${plot.left},0)`)
  .call(d3.axisLeft(y).tickValues(yTicks).tickFormat(fmt1).tickSize(5).tickSizeOuter(0).tickPadding(6));
[gx, gy].forEach(g => {
  g.select(".domain").remove();
  g.attr("font-family", null).attr("font-size", null);
  g.selectAll(".tick line").attr("stroke", "#000").attr("stroke-width", 1.2);
  g.selectAll(".tick text").attr("font-size", FONT).attr("fill", "#000");
});
gy.selectAll(".tick text").attr("dy", "0.36em");

// axis titles
svg.append("text")
  .attr("x", (plot.left + plot.right) / 2).attr("y", 755)
  .attr("text-anchor", "middle").attr("font-size", FONT)
  .text("log( [NII] / Hα )");
svg.append("text")
  .attr("transform", `translate(47,${(plot.top + plot.bottom) / 2}) rotate(-90)`)
  .attr("text-anchor", "middle").attr("font-size", FONT)
  .text("log( [OIII] / Hβ )");

// title with math-style parts
const TFONT = 31.5;
const titleParts = [
  { t: "n", it: true, shift: 0 },
  { t: "H", it: true, shift: 6, small: true },
  { t: " = 10", shift: 0 },
  { t: "4", shift: -10, small: true },
  { t: "cm", it: true, shift: 0 },
  { t: "−3", shift: -10, small: true },
  { t: ",   ", shift: 0 },
  { t: "Z", it: true, shift: 0 },
  { t: " = ", shift: 0 },
  { t: "Z", it: true, shift: 0 },
  { t: "⊙", shift: 6, small: true }
];
const title = svg.append("text")
  .attr("x", (plot.left + plot.right) / 2 + 2).attr("y", 43)
  .attr("text-anchor", "middle").attr("font-size", TFONT)
  .attr("xml:space", "preserve").style("white-space", "pre");
let cur = 0;
titleParts.forEach(p => {
  title.append("tspan")
    .attr("dy", p.shift - cur)
    .attr("font-style", p.it ? "italic" : null)
    .attr("font-size", p.small ? TFONT * 0.7 : null)
    .text(p.t);
  cur = p.shift;
});

// colorbar
const cb = { x: 923, w: 32, top: plot.top, bottom: plot.bottom };
const grad = svg.select("defs").append("linearGradient")
  .attr("id", "greens-grad").attr("x1", 0).attr("y1", 1).attr("x2", 0).attr("y2", 0);
grad.selectAll("stop").data(greens).join("stop")
  .attr("offset", (d, i) => i / (greens.length - 1))
  .attr("stop-color", d => d);
svg.append("rect")
  .attr("x", cb.x).attr("y", cb.top).attr("width", cb.w).attr("height", cb.bottom - cb.top)
  .attr("fill", "url(#greens-grad)").attr("stroke", "#222").attr("stroke-width", 1);
const uScale = d3.scaleLinear().domain(uDomain).range([cb.bottom, cb.top]);
const gc = svg.append("g").attr("transform", `translate(${cb.x + cb.w},0)`)
  .call(d3.axisRight(uScale).tickValues(uTicks).tickFormat(d3.format("d")).tickSize(5).tickSizeOuter(0).tickPadding(7));
gc.select(".domain").remove();
gc.attr("font-family", null).attr("font-size", null);
gc.selectAll(".tick line").attr("stroke", "#000").attr("stroke-width", 1.2);
gc.selectAll(".tick text").attr("font-size", FONT).attr("fill", "#000").attr("dy", "0.36em");
svg.append("text")
  .attr("transform", `translate(1051,${(cb.top + cb.bottom) / 2}) rotate(-90)`)
  .attr("text-anchor", "middle").attr("font-size", FONT)
  .text("log(U)");

// legend
const LFONT = 19.6;
const legend = svg.append("g");
legend.append("rect")
  .attr("x", 1068).attr("y", 3).attr("width", 440).attr("height", 176)
  .attr("rx", 4).attr("fill", "#fff").attr("fill-opacity", 0.8)
  .attr("stroke", "#cccccc").attr("stroke-width", 1);
const lightest = color(uDomain[0]);
legendEntries.forEach((e, i) => {
  const cy = 23 + i * 34.6;
  if (e.shape === "obs") {
    legend.append("circle").attr("cx", 1095).attr("cy", cy).attr("r", 4.5)
      .attr("fill", "#808080").attr("fill-opacity", 0.3);
  } else {
    legend.append("path").attr("d", shapePath[e.shape])
      .attr("transform", `translate(1095,${cy}) scale(${e.shape === "diamond" ? 0.95 : 1})`)
      .attr("fill", lightest).attr("stroke", "#000").attr("stroke-width", 1.3);
  }
  const t = legend.append("text").attr("x", 1129).attr("y", cy + 7)
    .attr("font-size", LFONT).attr("fill", "#000")
    .attr("xml:space", "preserve").style("white-space", "pre");
  t.append("tspan").text(e.pre);
  if (e.math) {
    t.append("tspan").attr("font-style", "italic").text(e.math);
    t.append("tspan").text(e.post);
  }
});
</script>
</body>
</html>
